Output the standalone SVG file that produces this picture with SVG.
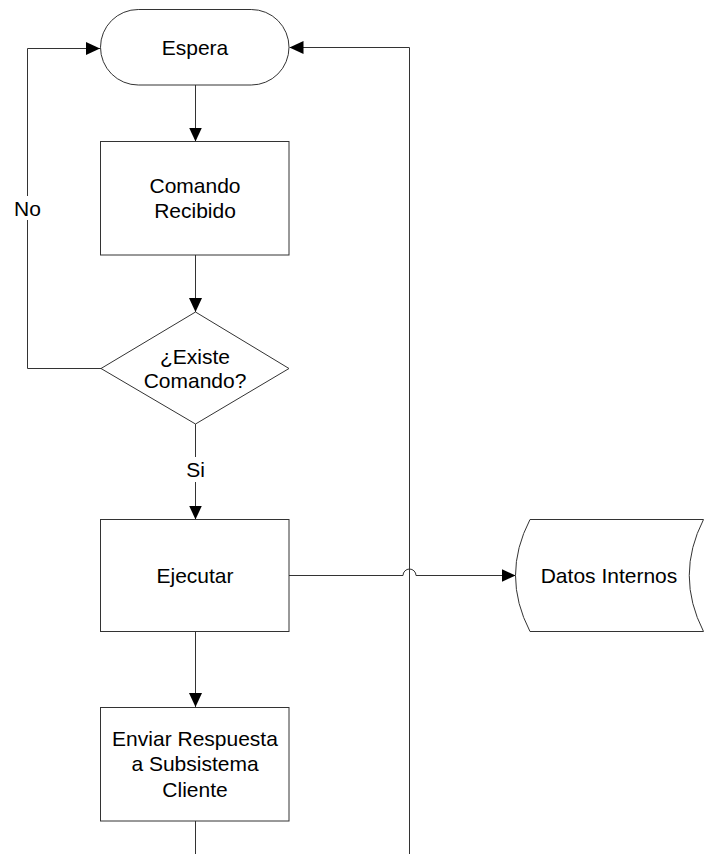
<svg xmlns="http://www.w3.org/2000/svg" width="710" height="854" viewBox="0 0 710 854">
  <style>
    .shape { fill: #ffffff; stroke: #333333; stroke-width: 1; }
    .wire { fill: none; stroke: #333333; stroke-width: 1; }
    .label { font-family: "Liberation Sans", Arial, sans-serif; font-size: 21px; fill: #000000; text-anchor: middle; }
    .tag { fill: #ffffff; stroke: none; }
  </style>
  <defs>
    <marker id="arrow" viewBox="0 0 14 14" refX="14" refY="7" markerWidth="14" markerHeight="14" markerUnits="userSpaceOnUse" orient="auto">
      <path d="M0,0.5 L14,7 L0,13.5 Z" fill="#000000"/>
    </marker>
  </defs>

  <!-- connectors -->
  <g id="connectors">
    <!-- Espera -> Comando Recibido -->
    <path class="wire" d="M195.5,85 V141.5" marker-end="url(#arrow)"/>
    <!-- Comando Recibido -> decision -->
    <path class="wire" d="M195.5,255 V312" marker-end="url(#arrow)"/>
    <!-- No: back to Espera -->
    <path class="wire" d="M101,368.5 H27.5 V48.5 H100" marker-end="url(#arrow)"/>
    <rect class="tag" x="14" y="196" width="27" height="24"/>
    <text class="label" x="27.5" y="216">No</text>
    <!-- Si: decision -> Ejecutar -->
    <path class="wire" d="M195.5,424 V519.5" marker-end="url(#arrow)"/>
    <rect class="tag" x="183" y="457" width="25" height="25"/>
    <text class="label" x="195.5" y="477">Si</text>
    <!-- Ejecutar -> Datos Internos, hopping over the return line -->
    <path class="wire" d="M289,575.5 H403 A6.5,6.5 0 0 1 416,575.5 H515.5" marker-end="url(#arrow)"/>
    <!-- Ejecutar -> Enviar Respuesta -->
    <path class="wire" d="M195.5,631.5 V707" marker-end="url(#arrow)"/>
    <!-- Enviar Respuesta onward -->
    <path class="wire" d="M195.5,821 V854"/>
    <!-- return line back to Espera -->
    <path class="wire" d="M409.5,854 V47.5 H289.5" marker-end="url(#arrow)"/>
  </g>

  <!-- Espera (terminator) -->
  <g id="espera">
    <rect class="shape" x="100.5" y="9.5" width="188.5" height="75.5" rx="37.75" ry="37.75"/>
    <text class="label" x="195" y="55">Espera</text>
  </g>

  <!-- Comando Recibido (process) -->
  <g id="comando-recibido">
    <rect class="shape" x="100.5" y="141.5" width="188.5" height="113.5"/>
    <text class="label" x="195" y="192.5">Comando</text>
    <text class="label" x="195" y="217.5">Recibido</text>
  </g>

  <!-- ¿Existe Comando? (decision) -->
  <g id="existe-comando">
    <path class="shape" d="M195.5,312 L289,368.5 L195.5,424 L101,368.5 Z"/>
    <text class="label" x="195" y="363.5">¿Existe</text>
    <text class="label" x="195" y="387.5">Comando?</text>
  </g>

  <!-- Ejecutar (process) -->
  <g id="ejecutar">
    <rect class="shape" x="100.5" y="519.5" width="188.5" height="112"/>
    <text class="label" x="195" y="583">Ejecutar</text>
  </g>

  <!-- Datos Internos (stored data) -->
  <g id="datos-internos">
    <path class="shape" d="M530,519.5 H703.5 Q675,575.5 703.5,631.5 H530 Q501,575.5 530,519.5 Z"/>
    <text class="label" x="609" y="583">Datos Internos</text>
  </g>

  <!-- Enviar Respuesta a Subsistema Cliente (process) -->
  <g id="enviar-respuesta">
    <rect class="shape" x="100.5" y="707.5" width="188.5" height="113.5"/>
    <text class="label" x="195" y="745.5">Enviar Respuesta</text>
    <text class="label" x="195" y="771">a Subsistema</text>
    <text class="label" x="195" y="796.5">Cliente</text>
  </g>
</svg>
